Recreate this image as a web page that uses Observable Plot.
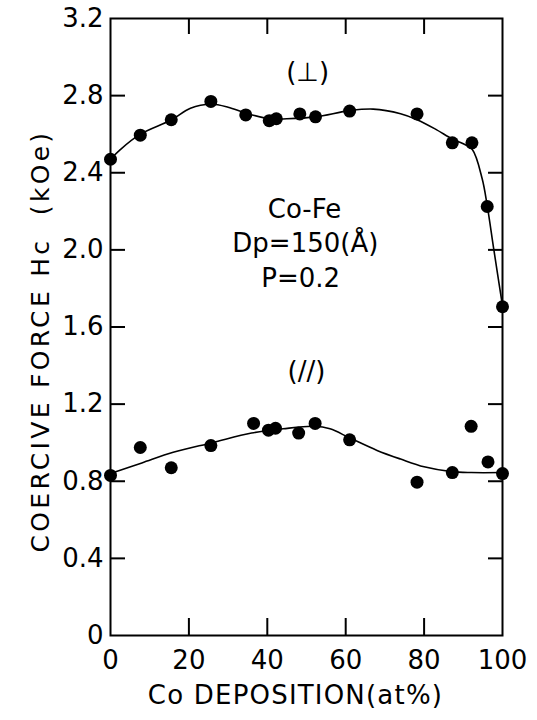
<!DOCTYPE html>
<html>
<head>
<meta charset="utf-8">
<script src="https://cdn.jsdelivr.net/npm/d3@7"></script>
<script src="https://cdn.jsdelivr.net/npm/@observablehq/plot@0.6"></script>
<style>
  html, body { margin: 0; padding: 0; background: #fff; }
  #chart svg { display: block; }
</style>
</head>
<body>
<div id="chart"></div>
<script>
// Tick values and labels
const xTicks = [0, 20, 40, 60, 80, 100];
const xTickLabels = ["0", "20", "40", "60", "80", "100"];
const xInnerTicks = [20, 40, 60, 80];
const yTicks = [0, 0.4, 0.8, 1.2, 1.6, 2.0, 2.4, 2.8, 3.2];
const yTickLabels = ["0", "0.4", "0.8", "1.2", "1.6", "2.0", "2.4", "2.8", "3.2"];
const yInnerTicks = [0.4, 0.8, 1.2, 1.6, 2.0, 2.4, 2.8];

const xTitle = "Co DEPOSITION(at%)";
const yTitle = "COERCIVE FORCE Hc  (kOe)";

// Perpendicular (⊥) measured points
const perpX = [0, 7.6, 15.5, 25.6, 34.5, 40.5, 42.3, 48.3, 52.3, 61, 78.2, 87.2, 92.2, 96.1, 100];
const perpY = [2.47, 2.595, 2.675, 2.77, 2.70, 2.67, 2.68, 2.705, 2.69, 2.72, 2.705, 2.555, 2.555, 2.225, 1.705];

// Perpendicular fitted curve
const perpCurveX = [0, 2.5, 7.6, 15.6, 20.4, 25.7, 30, 34.6, 40.6, 45, 52.3, 61, 67, 74, 78.2, 83, 87.2, 90, 92.3, 94.8, 96.1, 97.8, 100];
const perpCurveY = [2.47, 2.52, 2.60, 2.675, 2.735, 2.755, 2.74, 2.709, 2.68, 2.68, 2.69, 2.722, 2.73, 2.706, 2.675, 2.625, 2.575, 2.55, 2.52, 2.37, 2.23, 2.0, 1.71];

// Parallel (//) measured points
const parX = [0, 7.6, 15.5, 25.6, 36.5, 40.3, 42.1, 48, 52.2, 61, 78.2, 87.2, 92, 96.3, 100];
const parY = [0.83, 0.975, 0.87, 0.985, 1.10, 1.065, 1.075, 1.05, 1.10, 1.015, 0.795, 0.845, 1.085, 0.90, 0.84];

// Parallel fitted curve
const parCurveX = [0, 8, 16, 26, 36, 44, 52, 56, 61, 68, 74, 80, 87, 92, 100];
const parCurveY = [0.84, 0.895, 0.95, 1.0, 1.05, 1.072, 1.085, 1.072, 1.025, 0.96, 0.915, 0.875, 0.85, 0.845, 0.845];

// Annotations
const annText = ["(\u22A5)", "Co-Fe", "Dp=150(\u00C5)", "P=0.2", "(//)"];
const annX = [50.3, 49.5, 49.7, 48.5, 50];
const annY = [2.92, 2.21, 2.03, 1.85, 1.37];

const perp = perpX.map((x, i) => ({x, y: perpY[i]}));
const perpCurve = perpCurveX.map((x, i) => ({x, y: perpCurveY[i]}));
const par = parX.map((x, i) => ({x, y: parY[i]}));
const parCurve = parCurveX.map((x, i) => ({x, y: parCurveY[i]}));
const ann = annText.map((t, i) => ({t, x: annX[i], y: annY[i]}));

const chart = Plot.plot({
  width: 537,
  height: 720,
  marginLeft: 110,
  marginRight: 35,
  marginTop: 18,
  marginBottom: 85,
  x: {domain: [0, 100]},
  y: {domain: [0, 3.2]},
  style: {fontFamily: "DejaVu Sans", fontSize: "26px", color: "black", background: "white"},
  marks: [
    Plot.frame({stroke: "black", strokeWidth: 2}),
    // labels
    Plot.axisX(xTicks, {anchor: "bottom", tickSize: 0, tickPadding: 15, fontSize: 26,
      tickFormat: d => xTickLabels[xTicks.indexOf(d)], label: null}),
    Plot.axisY(yTicks, {anchor: "left", tickSize: 0, tickPadding: 7, fontSize: 26,
      tickFormat: d => yTickLabels[yTicks.indexOf(d)], label: null}),
    // inward ticks
    Plot.axisX(xInnerTicks, {anchor: "bottom", tickSize: -17, strokeWidth: 2, tickFormat: () => "", label: null}),
    Plot.axisX(xInnerTicks, {anchor: "top", tickSize: -15, strokeWidth: 2, tickFormat: () => "", label: null}),
    Plot.axisY(yInnerTicks, {anchor: "left", tickSize: -15, strokeWidth: 2, tickFormat: () => "", label: null}),
    Plot.axisY(yInnerTicks, {anchor: "right", tickSize: -15, strokeWidth: 2, tickFormat: () => "", label: null}),
    // titles
    Plot.text([xTitle], {frameAnchor: "bottom", textAnchor: "middle", dx: -11, dy: 68, fontSize: 26, text: d => d,
      fill: "black"}),
    Plot.text([yTitle], {frameAnchor: "left", textAnchor: "middle", rotate: -90, dx: -70, dy: 14, fontSize: 25, text: d => d,
      fill: "black"}),
    // curves
    Plot.line(perpCurve, {x: "x", y: "y", curve: "catmull-rom", stroke: "black", strokeWidth: 1.6}),
    Plot.line(parCurve, {x: "x", y: "y", curve: "catmull-rom", stroke: "black", strokeWidth: 1.6}),
    // points
    Plot.dot(perp, {x: "x", y: "y", r: 6.5, fill: "black", stroke: "none"}),
    Plot.dot(par, {x: "x", y: "y", r: 6.5, fill: "black", stroke: "none"}),
    // annotations
    Plot.text(ann, {x: "x", y: "y", text: "t", fontSize: 26, fill: "black"})
  ]
});

// letter spacing for the titles
d3.select(chart).selectAll("text").filter(function() { return this.textContent === yTitle; })
  .attr("letter-spacing", "3.3px").style("white-space", "pre");
d3.select(chart).selectAll("text").filter(function() { return this.textContent === xTitle; })
  .attr("letter-spacing", "1.2px");
document.getElementById("chart").appendChild(chart);
</script>
</body>
</html>
